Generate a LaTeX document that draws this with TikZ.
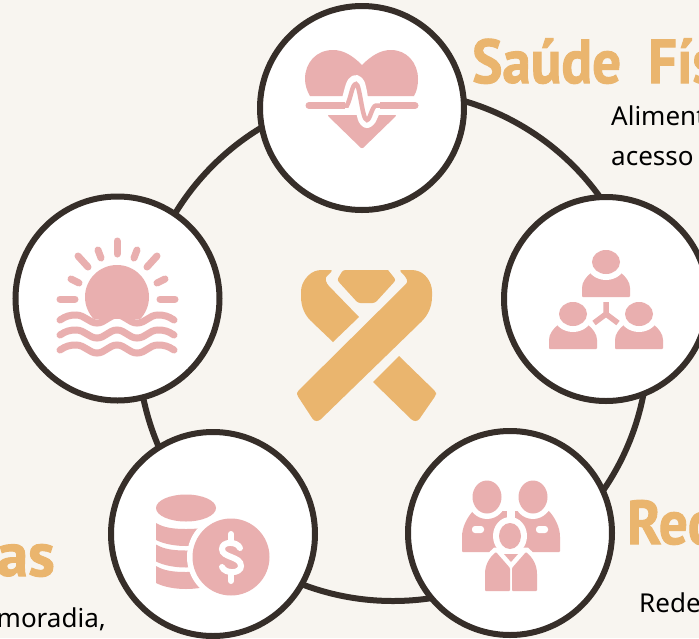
\documentclass[tikz,border=0pt]{standalone}
\usepackage{fontspec}
\setmainfont{Noto Sans}
\newfontfamily\titlefont[FakeBold=1.6]{PT Sans}
\usetikzlibrary{positioning}

\definecolor{paperbg}{HTML}{F8F5F0}
\definecolor{ringdark}{HTML}{362E29}
\definecolor{iconpink}{HTML}{E9AFAF}
\definecolor{titlegold}{HTML}{EAB56E}

\tikzset{
    hubcircle/.style={circle, draw=ringdark, fill=white, line width=6pt, minimum size=204pt, inner sep=0pt, outer sep=0pt},
    bodytext/.style={anchor=base west, inner sep=0pt, font=\fontsize{26}{30}\selectfont},
    titletext/.style={anchor=base west, inner sep=0pt, text=titlegold, font=\titlefont\bfseries\fontsize{62}{70}\selectfont},
    ribbonpart/.style={fill=titlegold, rounded corners=2.5pt},
    iconray/.style={draw=iconpink, line width=7pt, line cap=round},
    personbust/.pic={
        \fill[iconpink, rounded corners=1pt] (-24,35) -- (-24,27) .. controls (-24,20) and (-20,15) .. (-14,10) -- (14,10) .. controls (20,15) and (24,20) .. (24,27) -- (24,35) -- cycle;
        \fill[white] (0,0) ellipse [x radius=20, y radius=18];
        \fill[iconpink] (0,0) ellipse [x radius=14, y radius=12];
    }
}

\begin{document}
\begin{tikzpicture}[x=1pt, y=-1pt]
        \useasboundingbox (0,0) rectangle (699,638);
        \clip (0,0) rectangle (699,638);
        \fill[paperbg] (0,0) rectangle (699,638);

        \coordinate (ringcenter) at (393,346);
        \draw[ringdark, line width=6pt] (ringcenter) circle (255);

        \node[hubcircle] (saude) at (362,108) {};
        \node[hubcircle] (sun) at (117.5,298.5) {};
        \node[hubcircle] (network) at (606,299) {};
        \node[hubcircle] (coins) at (213,534) {};
        \node[hubcircle] (family) at (510,533) {};

        \node[titletext] (saudetitle) at (472,83) {\scalebox{.92}[1]{Saúde\hspace{.22em} Fís}};
        \node[titletext] (redetitle) at (627,544) {\scalebox{.92}[1]{Red}};
        \node[titletext, anchor=base east] (astitle) at (55,576) {\scalebox{1.02}[1]{as}};
        \node[bodytext] (alimtext) at (611,125) {Aliment};
        \node[bodytext] (acessotext) at (611,165) {acesso};
        \node[bodytext] (redetext) at (639,612) {Rede};
        \node[bodytext, anchor=base east] (moradiatext) at (106,627) {moradia,};

        % ribbon
        \fill[ribbonpart] (399,270) -- (413,270) .. controls (425,272) and (432,282) .. (432,294) .. controls (432,307) and (428,315) .. (420,323) -- (319,421) -- (314,421) -- (297,395) -- (297,392) -- (408,282) -- (405,276) -- cycle;
        \fill[ribbonpart] (333,270) -- (320,270) .. controls (309,272) and (301,282) .. (301,294) .. controls (301,307) and (305,315) .. (312,322) [sharp corners] -- (333,342) -- (359,317) [rounded corners=2.5pt] -- (327,284) -- (325,278) -- cycle;
        \fill[ribbonpart] (343,270) [sharp corners] -- (388,270) [rounded corners=2.5pt] -- (396,280) -- (375,303) -- (358,303) -- (337,280) -- cycle;
        \fill[ribbonpart, sharp corners] (399,356) [rounded corners=2.5pt] -- (436,392) -- (436,395) -- (418,421) -- (413,421) [sharp corners] -- (373,382) -- cycle;

        % heart
        \fill[iconpink] (362,65) .. controls (352,55) and (343,50) .. (333,50) .. controls (316,50) and (305,63) .. (305,79) .. controls (305,85) and (307,91) .. (310,96) -- (414,96) .. controls (417,91) and (418,85) .. (418,79) .. controls (418,63) and (407,50) .. (391,50) .. controls (381,50) and (372,55) .. (362,65) -- cycle;
        \fill[iconpink, rounded corners=2pt] (327,115) -- (397,115) -- (362,149) -- cycle;
        \draw[white, line width=14pt, line cap=round, line join=round] (347,105) .. controls (351,95) and (352,82) .. (356,82) .. controls (361,82) and (362,121) .. (367,121) .. controls (370,121) and (372,110) .. (376,106);
        \draw[iconpink, line width=7pt, line cap=round] (309,105.5) -- (415,105.5);
        \draw[white, line width=9pt] (345,105.5) -- (380,105.5);
        \draw[iconpink, line width=4.5pt, line cap=round] (342,105.5) -- (347,105.5) .. controls (351,98) and (352,84) .. (356,84) .. controls (360,84) and (362,120) .. (367,120) .. controls (370,120) and (372,106) .. (376,105.5) -- (382,105.5);

        % sun and waves
        \begin{scope}
            \clip (50,230) rectangle (180,318);
            \fill[iconpink] (117,297) circle (32);
        \end{scope}
        \draw[iconray] (117,241) -- (117,254);
        \draw[iconray] (78,256) -- (88,267);
        \draw[iconray] (157,256) -- (147,267);
        \draw[iconray] (98,250) -- (101,258);
        \draw[iconray] (137,250) -- (134,258);
        \draw[iconray] (71,279) -- (79,283);
        \draw[iconray] (165,279) -- (157,283);
        \draw[iconray] (60,299) -- (75,299);
        \draw[iconray] (160,299) -- (175,299);
        \foreach \wavey in {320,335,350} {
            \draw[iconray] (60,\wavey) .. controls +(6,-4) and +(-6,0) .. ++(16,-5) .. controls +(9,0) and +(-8,0) .. ++(21,8) .. controls +(8,0) and +(-8,0) .. ++(20,-8) .. controls +(8,0) and +(-8,0) .. ++(20,8) .. controls +(9,0) and +(-9,0) .. ++(21,-8) .. controls +(6,0) and +(-6,-4) .. ++(16,5);
        }

        % coins
        \fill[iconpink] (186,508) ellipse [x radius=30, y radius=13.5];
        \foreach \coiny in {0,21.5,43} {
            \fill[iconpink] (156,523+\coiny) .. controls (164,528+\coiny) and (175,529+\coiny) .. (186,529+\coiny) .. controls (197,529+\coiny) and (208,528+\coiny) .. (216,523+\coiny) -- (216,540+\coiny) .. controls (208,544+\coiny) and (197,546+\coiny) .. (186,546+\coiny) .. controls (175,546+\coiny) and (164,544+\coiny) .. (156,540+\coiny) -- cycle;
        }
        \fill[white] (231,557) circle (44);
        \fill[iconpink] (231,557) circle (38.5);
        \draw[white, line width=6pt, line cap=round] (240,548) .. controls (237,541) and (222,541) .. (222,549) .. controls (222,558) and (241,556) .. (241,566) .. controls (241,574) and (225,574) .. (222,567);
        \draw[white, line width=6pt, line cap=round] (231,534) -- (231,540);
        \draw[white, line width=6pt, line cap=round] (231,575) -- (231,581);

        % network
        \pic at (606,262) {personbust};
        \pic at (573,314) {personbust};
        \pic at (639,314) {personbust};
        \draw[iconpink, line width=5.5pt] (606,302) -- (606,314) -- (594,323);
        \draw[iconpink, line width=5.5pt] (606,314) -- (618,323);

        % family
        \fill[iconpink, rounded corners=1pt] (462,552) -- (462,538) .. controls (462,527) and (467,518) .. (473,511) -- (511,511) -- (511,552) -- cycle;
        \fill[iconpink, rounded corners=1pt] (560,552) -- (560,538) .. controls (560,527) and (555,518) .. (549,511) -- (511,511) -- (511,552) -- cycle;
        \fill[white] (487,497) ellipse [x radius=20, y radius=22];
        \fill[white] (533,497) ellipse [x radius=20, y radius=22];
        \fill[iconpink] (487,497) ellipse [x radius=14.5, y radius=16.5];
        \fill[iconpink] (533,497) ellipse [x radius=14.5, y radius=16.5];
        \fill[white, rounded corners=3pt] (472,526) rectangle (484,533);
        \fill[white, rounded corners=3pt] (536,526) rectangle (548,533);
        \draw[white, line width=8pt] (511,505) -- (511,522);
        \filldraw[white, line width=9pt] (485,591) -- (485,575) .. controls (485,565) and (489,558) .. (496,552) -- (526,552) .. controls (533,558) and (537,565) .. (537,575) -- (537,591) -- cycle;
        \fill[white] (510,536) ellipse [x radius=17, y radius=19];
        \fill[iconpink] (510,536) ellipse [x radius=11, y radius=13];
        \fill[iconpink, rounded corners=1pt] (485,591) -- (485,575) .. controls (485,565) and (489,558) .. (496,552) -- (510,568) -- (510,591) -- cycle;
        \fill[iconpink, rounded corners=1pt] (537,591) -- (537,575) .. controls (537,565) and (533,558) .. (526,552) -- (512,568) -- (512,591) -- cycle;
        \fill[iconpink] (504,554) -- (518,554) -- (511,562) -- cycle;
    \end{tikzpicture}
\end{document}
